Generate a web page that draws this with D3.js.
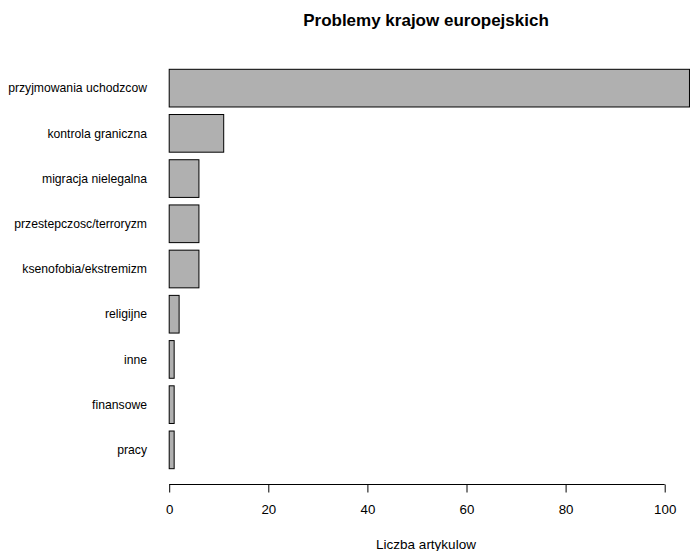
<!DOCTYPE html>
<html>
<head>
<meta charset="utf-8">
<script src="https://cdn.jsdelivr.net/npm/d3@7"></script>
<style>
  html, body { margin: 0; padding: 0; background: #ffffff; }
  svg { display: block; }
  text { font-family: "Liberation Sans", Arial, sans-serif; fill: #000; }
</style>
</head>
<body>
<svg id="chart" width="690" height="551"></svg>
<script>
const categories = [
  "przyjmowania uchodzcow",
  "kontrola graniczna",
  "migracja nielegalna",
  "przestepczosc/terroryzm",
  "ksenofobia/ekstremizm",
  "religijne",
  "inne",
  "finansowe",
  "pracy"
];
const values = [105, 11, 6, 6, 6, 2, 1, 1, 1];
const xTicks = [0, 20, 40, 60, 80, 100];
const title = "Problemy krajow europejskich";
const xTitle = "Liczba artykulow";

const svg = d3.select("#chart");
const W = 690, H = 551;

const x = d3.scaleLinear().domain([0, 100]).range([169.2, 664.7]);
const y = d3.scaleBand().domain(categories).range([69.3, 468.7])
  .paddingInner(1 / 6).paddingOuter(0);

svg.append("defs").append("clipPath").attr("id", "clip")
  .append("rect").attr("x", 0).attr("y", 0).attr("width", W).attr("height", H);

svg.append("g").attr("clip-path", "url(#clip)")
  .selectAll("rect.bar")
  .data(categories)
  .join("rect")
  .attr("class", "bar")
  .attr("x", x(0))
  .attr("y", (d) => y(d))
  .attr("width", (d, i) => x(values[i]) - x(0))
  .attr("height", y.bandwidth())
  .attr("fill", "#b0b0b0")
  .attr("stroke", "#000")
  .attr("stroke-width", 1);

// category labels
svg.append("g")
  .selectAll("text")
  .data(categories)
  .join("text")
  .attr("x", 147)
  .attr("y", (d) => y(d) + y.bandwidth() / 2)
  .attr("dy", "0.35em")
  .attr("text-anchor", "end")
  .attr("font-size", 12.2)
  .text((d) => d);

// x axis
const xAxis = d3.axisBottom(x).tickValues(xTicks).tickSize(8).tickPadding(12)
  .tickFormat(d3.format("d"));
const gx = svg.append("g").attr("transform", "translate(0,484.5)").call(xAxis);
gx.select(".domain").attr("stroke", "#000").attr("d", `M${x(0)},0.5H${x(100)}`).attr("transform", "translate(0,-0.5)");
gx.selectAll(".tick line").attr("stroke", "#000");
gx.selectAll(".tick text")
  .attr("font-family", '"Liberation Sans", Arial, sans-serif')
  .attr("font-size", 13.3)
  .attr("fill", "#000");

// title
svg.append("text")
  .attr("x", 426)
  .attr("y", 26)
  .attr("text-anchor", "middle")
  .attr("font-size", 17)
  .attr("font-weight", "bold")
  .text(title);

// x title
svg.append("text")
  .attr("x", 426)
  .attr("y", 549)
  .attr("text-anchor", "middle")
  .attr("font-size", 13.5)
  .text(xTitle);
</script>
</body>
</html>
